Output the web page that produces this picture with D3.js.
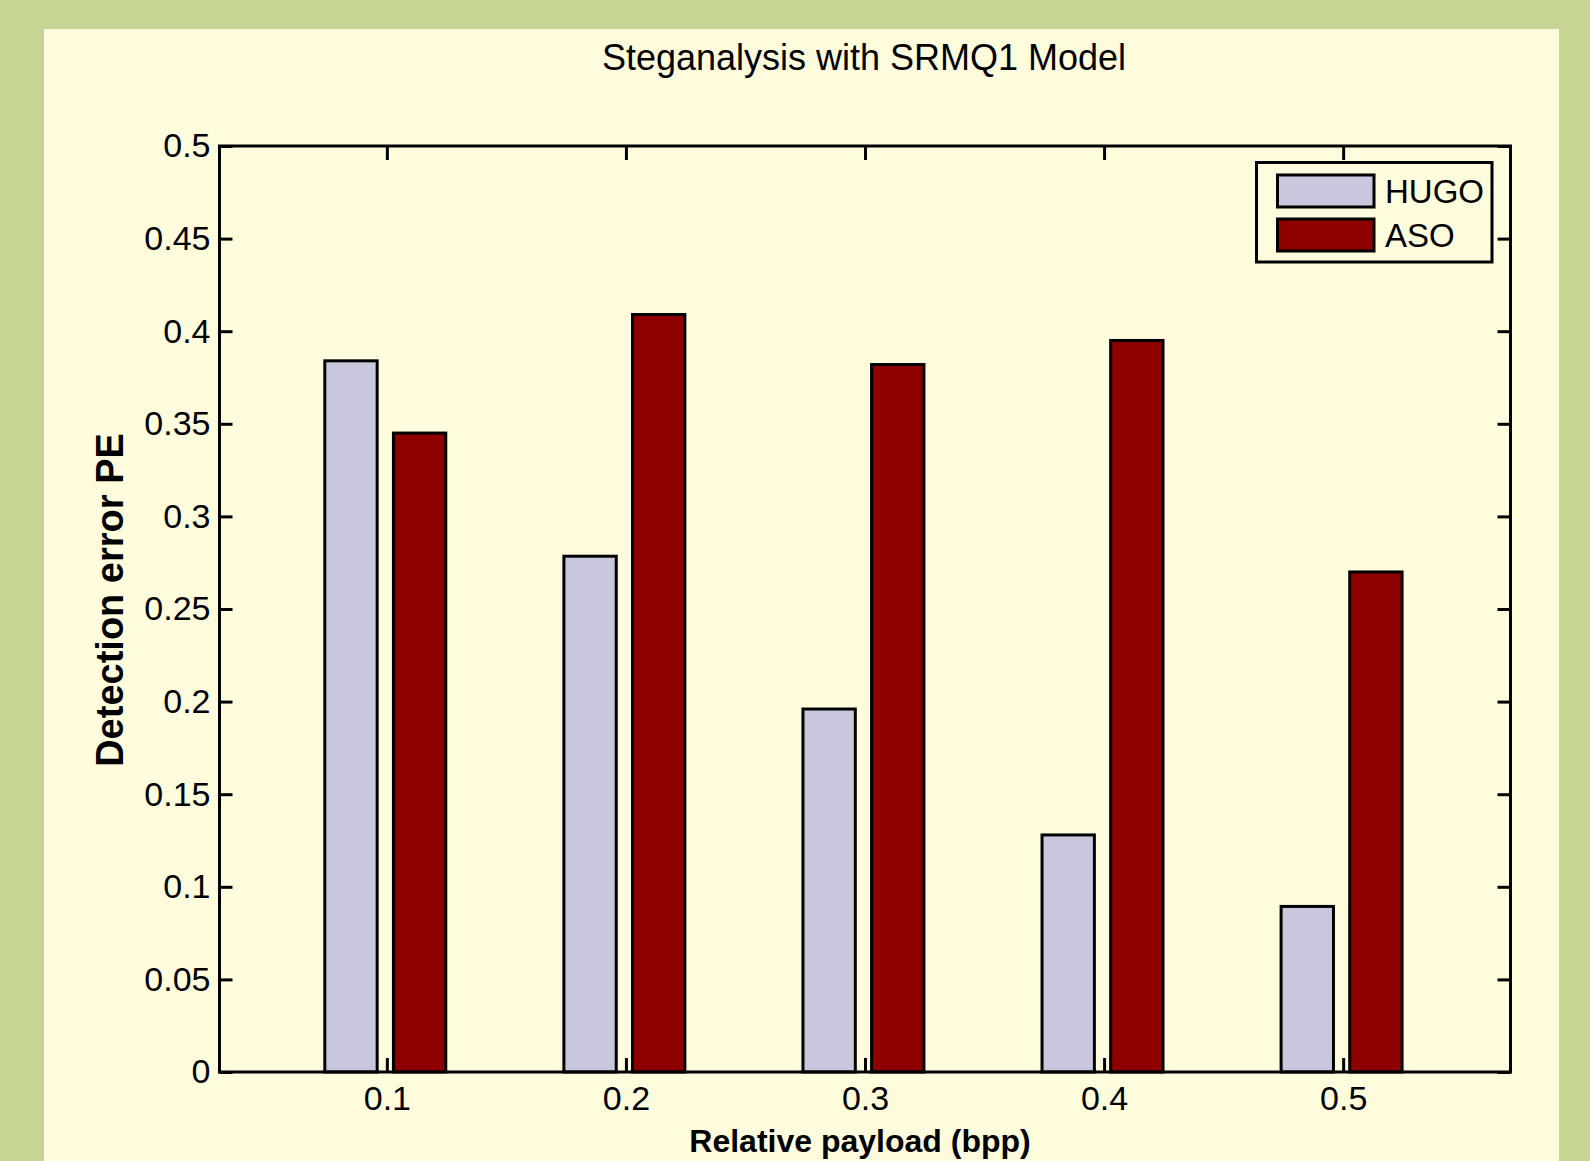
<!DOCTYPE html>
<html>
<head>
<meta charset="utf-8">
<script src="https://cdn.jsdelivr.net/npm/d3@7"></script>
<style>
  html, body { margin: 0; padding: 0; background: #C6D593; }
  svg { display: block; }
  text { font-family: "Liberation Sans", Arial, sans-serif; fill: #000; }
</style>
</head>
<body>
<script>
// ---- data ----
const categories = [0.1, 0.2, 0.3, 0.4, 0.5];
const seriesNames = ["HUGO", "ASO"];
const hugoValues = [0.384, 0.2785, 0.196, 0.128, 0.0894];
const asoValues  = [0.345, 0.409, 0.382, 0.395, 0.270];
const yTickValues = [0, 0.05, 0.1, 0.15, 0.2, 0.25, 0.3, 0.35, 0.4, 0.45, 0.5];
const yTickLabels = ["0", "0.05", "0.1", "0.15", "0.2", "0.25", "0.3", "0.35", "0.4", "0.45", "0.5"];
const xTickLabels = ["0.1", "0.2", "0.3", "0.4", "0.5"];
const titleText = "Steganalysis with SRMQ1 Model";
const xLabelText = "Relative payload (bpp)";
const yLabelText = "Detection error PE";

// ---- layout ----
const W = 1590, H = 1161;
const colors = { HUGO: "#C8C7DD", ASO: "#8E0000" };
const plotL = 219.5, plotR = 1510.5, plotT = 146, plotB = 1072;

const svg = d3.select("body").append("svg").attr("width", W).attr("height", H);
svg.append("rect").attr("x", 0).attr("y", 0).attr("width", W).attr("height", H).attr("fill", "#C6D593");
svg.append("rect").attr("x", 44).attr("y", 29).attr("width", 1559 - 44).attr("height", H - 29).attr("fill", "#FFFCDD");

const x = d3.scaleLinear().domain([0.03, 0.57]).range([plotL, plotR]);
const y = d3.scaleLinear().domain([0, 0.5]).range([plotB, plotT]);

const barW = 0.0219;                 // bar width in x units
const offsets = { HUGO: -0.0150, ASO: 0.0137 };

const rows = [];
categories.forEach((c, i) => {
  rows.push({ s: "HUGO", c, v: hugoValues[i] });
  rows.push({ s: "ASO", c, v: asoValues[i] });
});

// axes (ticks inward)
const fontSize = 34;
const gx = svg.append("g").attr("transform", `translate(0,${plotB})`)
  .call(d3.axisBottom(x).tickValues(categories).tickFormat((d, i) => xTickLabels[i])
    .tickSizeInner(-14).tickSizeOuter(0).tickPadding(14));
const gxt = svg.append("g").attr("transform", `translate(0,${plotT})`)
  .call(d3.axisTop(x).tickValues(categories).tickFormat("")
    .tickSizeInner(-14).tickSizeOuter(0));
const gy = svg.append("g").attr("transform", `translate(${plotL},0)`)
  .call(d3.axisLeft(y).tickValues(yTickValues).tickFormat((d, i) => yTickLabels[i])
    .tickSizeInner(-13).tickSizeOuter(0).tickPadding(9));
const gyr = svg.append("g").attr("transform", `translate(${plotR},0)`)
  .call(d3.axisRight(y).tickValues(yTickValues).tickFormat("")
    .tickSizeInner(-13).tickSizeOuter(0));

[gx, gxt, gy, gyr].forEach(g => {
  g.select(".domain").remove();
  g.selectAll(".tick line").attr("stroke", "#000").attr("stroke-width", 3);
  g.selectAll(".tick text").attr("font-size", fontSize).attr("font-family", "Liberation Sans, Arial, sans-serif").attr("fill", "#000");
});

// bars
svg.append("g").selectAll("rect").data(rows).join("rect")
  .attr("x", d => x(d.c + offsets[d.s] - barW / 2))
  .attr("width", d => x(d.c + offsets[d.s] + barW / 2) - x(d.c + offsets[d.s] - barW / 2))
  .attr("y", d => y(d.v))
  .attr("height", d => y(0) - y(d.v))
  .attr("fill", d => colors[d.s])
  .attr("stroke", "#000").attr("stroke-width", 3);

// frame
svg.append("rect").attr("x", plotL).attr("y", plotT).attr("width", plotR - plotL).attr("height", plotB - plotT)
  .attr("fill", "none").attr("stroke", "#000").attr("stroke-width", 3);

// title and labels
svg.append("text").attr("x", 864).attr("y", 70).attr("text-anchor", "middle")
  .attr("font-size", 36).text(titleText);
svg.append("text").attr("x", 860).attr("y", 1152).attr("text-anchor", "middle")
  .attr("font-size", 32).attr("font-weight", "bold").text(xLabelText);
svg.append("text").attr("transform", "translate(123,600) rotate(-90)").attr("text-anchor", "middle")
  .attr("font-size", 38).attr("font-weight", "bold").text(yLabelText);

// legend
const lg = svg.append("g");
lg.append("rect").attr("x", 1256.5).attr("y", 162.5).attr("width", 235.5).attr("height", 99.5)
  .attr("fill", "#FFFCDD").attr("stroke", "#000").attr("stroke-width", 3);
const legendY = [191, 235];
seriesNames.forEach((s, i) => {
  lg.append("rect").attr("x", 1277.5).attr("y", legendY[i] - 16).attr("width", 96.5).attr("height", 32)
    .attr("fill", colors[s]).attr("stroke", "#000").attr("stroke-width", 3);
  lg.append("text").attr("x", 1385).attr("y", legendY[i]).attr("dy", "0.36em")
    .attr("font-size", 33).text(s);
});
</script>
</body>
</html>
